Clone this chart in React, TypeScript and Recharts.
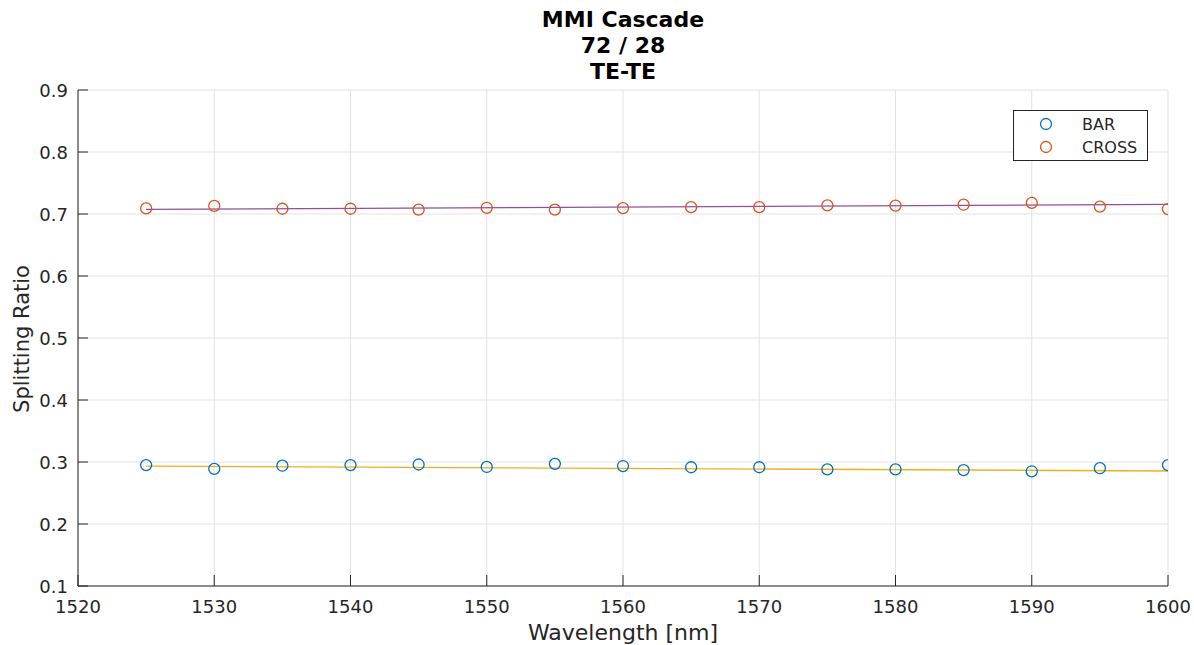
import React from 'react';
import {
  ScatterChart,
  Scatter,
  XAxis,
  YAxis,
  CartesianGrid,
  Legend
} from 'recharts';

// wavelength samples [nm]
const wavelengths = [1525, 1530, 1535, 1540, 1545, 1550, 1555, 1560, 1565, 1570, 1575, 1580, 1585, 1590, 1595, 1600];

// measured splitting ratios
const barValues = [0.295, 0.289, 0.294, 0.295, 0.296, 0.292, 0.297, 0.2935, 0.2915, 0.2915, 0.288, 0.288, 0.287, 0.285, 0.290, 0.295];
const crossValues = [0.709, 0.713, 0.7085, 0.7085, 0.707, 0.710, 0.707, 0.7095, 0.711, 0.711, 0.714, 0.7135, 0.715, 0.718, 0.712, 0.708];

// linear fit endpoints
const fitWavelengths = [1525, 1600];
const barFit = [0.2935, 0.2855];
const crossFit = [0.7073, 0.7155];

const xTicks = [1520, 1530, 1540, 1550, 1560, 1570, 1580, 1590, 1600];
const yTicks = [0.1, 0.2, 0.3, 0.4, 0.5, 0.6, 0.7, 0.8, 0.9];

const titleLines = ['MMI Cascade', '72 / 28', 'TE-TE'];

const COLORS = {
  bar: '#0072BD',
  cross: '#D95319',
  barFit: '#EDB120',
  crossFit: '#7E2F8E',
  axis: '#262626',
  grid: '#e3e3e3'
};

const FONT = '"DejaVu Sans", sans-serif';

const barData = wavelengths.map((x, i) => ({ x, y: barValues[i] }));
const crossData = wavelengths.map((x, i) => ({ x, y: crossValues[i] }));
const barFitData = fitWavelengths.map((x, i) => ({ x, y: barFit[i] }));
const crossFitData = fitWavelengths.map((x, i) => ({ x, y: crossFit[i] }));

const Ring = (color: string) => (props: any) => (
  <circle cx={props.cx} cy={props.cy} r={5.5} fill="none" stroke={color} strokeWidth={1.3} />
);

const NoMarker = () => <g />;

const XTick = (props: any) => {
  const { x, y, payload } = props;
  return (
    <g>
      <line x1={x} x2={x} y1={y} y2={y - 11} stroke={COLORS.axis} strokeWidth={1} />
      <text x={x} y={y + 27} textAnchor="middle" fontSize={18} fontFamily={FONT} fill={COLORS.axis}>
        {payload.value}
      </text>
    </g>
  );
};

const YTick = (props: any) => {
  const { x, y, payload } = props;
  return (
    <g>
      <line x1={x} x2={x + 10} y1={y} y2={y} stroke={COLORS.axis} strokeWidth={1} />
      <text x={x - 10} y={y + 6.5} textAnchor="end" fontSize={18} fontFamily={FONT} fill={COLORS.axis}>
        {Number(payload.value).toFixed(1)}
      </text>
    </g>
  );
};

const LegendBox = () => (
  <div
    style={{
      width: 135,
      height: 51,
      border: `1px solid ${COLORS.axis}`,
      background: '#fff',
      fontFamily: FONT,
      fontSize: 16,
      color: COLORS.axis,
      boxSizing: 'border-box',
      position: 'relative'
    }}
  >
    {[
      { name: 'BAR', color: COLORS.bar, top: 2 },
      { name: 'CROSS', color: COLORS.cross, top: 25 }
    ].map(item => (
      <div key={item.name} style={{ position: 'absolute', left: 0, top: item.top, height: 22, display: 'flex', alignItems: 'center' }}>
        <svg width={60} height={22} style={{ display: 'block' }}>
          <circle cx={32} cy={11} r={5.5} fill="none" stroke={item.color} strokeWidth={1.3} />
        </svg>
        <span style={{ marginLeft: 8 }}>{item.name}</span>
      </div>
    ))}
  </div>
);

export default function App() {
  return (
    <div style={{ position: 'absolute', left: 0, top: 0, width: 1194, height: 645, background: '#fff' }}>
      <ScatterChart
        width={1194}
        height={645}
        margin={{ top: 90, right: 26, bottom: 0, left: 0 }}
      >
        <CartesianGrid stroke={COLORS.grid} />
        <XAxis
          dataKey="x"
          type="number"
          domain={[1520, 1600]}
          ticks={xTicks}
          height={59}
          tickLine={false}
          tickSize={0}
          tickMargin={0}
          tick={<XTick />}
          axisLine={{ stroke: COLORS.axis }}
          allowDataOverflow
        />
        <YAxis
          dataKey="y"
          type="number"
          domain={[0.1, 0.9]}
          ticks={yTicks}
          width={78}
          tickLine={false}
          tickSize={0}
          tickMargin={0}
          tick={<YTick />}
          axisLine={{ stroke: COLORS.axis }}
          allowDataOverflow
        />
        <Legend
          layout="vertical"
          align="center"
          verticalAlign="middle"
          content={<LegendBox />}
          wrapperStyle={{ position: 'absolute', left: 1013, top: 110, width: 135, height: 51 }}
        />
        <Scatter
          name="BAR fit"
          data={barFitData}
          line={{ stroke: COLORS.barFit, strokeWidth: 1.3 }}
          shape={<NoMarker />}
          legendType="none"
          isAnimationActive={false}
        />
        <Scatter
          name="CROSS fit"
          data={crossFitData}
          line={{ stroke: COLORS.crossFit, strokeWidth: 1.3, strokeOpacity: 0.85 }}
          shape={<NoMarker />}
          legendType="none"
          isAnimationActive={false}
        />
        <Scatter name="BAR" data={barData} shape={Ring(COLORS.bar)} isAnimationActive={false} />
        <Scatter name="CROSS" data={crossData} shape={Ring(COLORS.cross)} isAnimationActive={false} />
      </ScatterChart>

      {/* title and axis labels */}
      <svg width={1194} height={645} style={{ position: 'absolute', left: 0, top: 0, pointerEvents: 'none' }}>
        {titleLines.map((line, i) => (
          <text
            key={line}
            x={623}
            y={27 + i * 26}
            textAnchor="middle"
            fontSize={22}
            fontWeight="bold"
            fontFamily={FONT}
            fill="#000"
          >
            {line}
          </text>
        ))}
        <text x={623} y={640} textAnchor="middle" fontSize={22} fontFamily={FONT} fill={COLORS.axis}>
          Wavelength [nm]
        </text>
        <text
          x={29}
          y={339}
          textAnchor="middle"
          fontSize={21}
          fontFamily={FONT}
          fill={COLORS.axis}
          transform="rotate(-90 29 339)"
        >
          Splitting Ratio
        </text>
      </svg>
    </div>
  );
}
